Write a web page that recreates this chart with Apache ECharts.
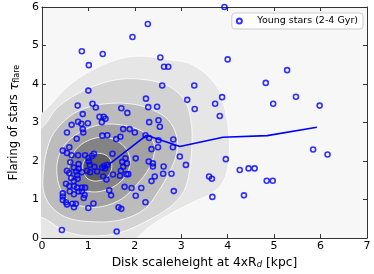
<!DOCTYPE html>
<html><head><meta charset="utf-8">
<script src="https://cdn.jsdelivr.net/npm/echarts@6/dist/echarts.min.js"></script>
<style>html,body{margin:0;padding:0;background:#fff}#c{width:374px;height:274px}</style>
</head><body><div id="c"></div>
<script>
// ---- data ----
const xTicks = [0, 1, 2, 3, 4, 5, 6, 7];
const yTicks = [0, 1, 2, 3, 4, 5, 6];
const seriesName = 'Young stars (2-4 Gyr)';

const youngStars = [
  [2.28,5.56],[1.95,5.22],[0.86,4.85],[1.31,4.78],[1.01,4.49],[2.55,4.69],[2.63,4.45],[2.72,4.45],
  [1.0,3.83],[2.59,3.96],[0.77,3.44],[1.09,3.49],[1.16,3.39],[0.88,3.22],[1.71,3.37],[1.84,3.25],
  [2.24,3.62],[2.29,3.40],[2.48,3.41],[2.31,3.01],[2.51,3.06],[2.54,2.89],[3.28,3.96],[3.13,3.59],
  [3.29,3.35],[0.64,2.94],[0.78,3.02],[0.85,2.97],[0.99,2.98],[0.88,2.83],[0.89,2.74],[1.29,3.01],
  [1.33,3.15],[1.37,3.10],[1.24,3.15],[0.54,2.74],[1.75,2.83],[1.89,2.83],[2.0,2.74],[1.3,2.66],
  [1.41,2.67],[2.23,2.67],[2.31,2.6],[3.93,6.0],[4.0,4.64],[5.28,4.36],[4.82,4.03],[3.88,3.66],
  [5.47,3.67],[3.73,3.49],[4.98,3.49],[5.98,3.44],[3.83,3.17],[0.75,2.58],[1.6,2.57],[1.69,2.63],
  [2.51,2.54],[2.83,2.56],[2.82,2.36],[2.5,2.36],[2.36,2.31],[2.97,2.12],
  [3.96,2.05],[5.84,2.30],[6.15,2.17],[3.6,1.60],[3.66,1.54],[4.26,1.77],[4.45,1.81],[4.58,1.81],
  [4.84,1.49],[4.97,1.49],[3.67,1.07],[4.35,1.11],[3.1,1.9],[2.62,1.86],[2.61,1.67],[2.79,1.67],
  [2.84,1.22],[2.43,1.6],[2.36,1.48],[2.3,1.99],[2.39,1.94],[2.39,1.86],[2.02,2.07],[2.23,0.93],
  [1.78,1.33],[1.93,1.3],[2.14,1.3],[2.02,1.1],[1.45,1.24],[1.49,1.11],[1.65,0.8],[1.71,0.76],
  [1.61,0.17],[0.43,0.21],
  [0.45,1.16],[0.45,1.08],[0.45,0.99],[0.52,0.93],[0.54,0.87],[0.66,0.89],[0.73,0.89],[0.69,0.8],
  [1.0,0.78],[1.11,0.9],[0.6,1.21],[0.69,1.14],[0.79,1.21],[0.86,1.21],[0.92,1.12],[0.9,1.04],
  [0.52,1.41],[0.59,1.35],[0.69,1.35],[0.76,1.31],[0.86,1.31],[0.93,1.31],[0.69,1.48],[0.63,1.56],
  [0.54,1.75],[0.59,1.69],[0.74,1.73],[0.76,1.63],[0.77,1.54],[0.86,1.71],[0.69,1.83],[0.79,1.8],
  [0.45,2.27],[0.54,2.21],[0.64,2.15],[0.78,2.15],[0.61,1.97],[0.79,1.92],[0.59,2.36],
  [0.93,2.15],[1.0,2.08],[1.01,1.99],[1.03,1.9],[0.97,1.75],[1.04,1.71],
  [1.12,2.19],[1.08,2.13],[1.52,2.19],[1.13,1.85],[1.19,1.73],[1.3,1.83],[1.34,1.87],[1.36,1.81],
  [1.41,1.9],[1.32,1.6],[1.39,1.52],[1.53,1.65],[1.68,1.62],[1.73,1.98],[1.8,2.07],[1.83,1.94],
  [1.75,1.85],[1.7,1.75],[1.82,1.66],[1.86,1.66]
];

const meanLine = [[1.43,1.9],[2.25,2.67],[2.97,2.38],[3.9,2.62],[4.85,2.66],[5.92,2.88]];

// density contour outlines (outermost first)
const contour1 = [[-0.6,2.6],[-0.25,2.95],[0.12,3.38],[0.62,4.0],[1.32,4.5],[2.0,4.72],[2.81,4.62],[3.24,4.5],[3.73,4.0],[3.96,3.24],[4.04,2.4],[4.0,1.82],[3.86,1.38],[3.6,1.13],[3.25,0.93],[2.75,0.62],[2.3,0.28],[1.95,-0.1],[1.2,-0.6],[-0.6,-0.6]];
const contour2 = [[-0.3,2.4],[0.1,3.0],[0.36,3.42],[0.97,3.87],[1.65,4.12],[2.3,4.1],[2.77,3.92],[3.1,3.52],[3.22,2.95],[3.23,2.4],[3.18,1.75],[3.05,1.2],[2.75,0.8],[2.3,0.47],[1.65,0.13],[0.97,0.06],[0.5,0.18],[0.1,0.48],[-0.4,0.8]];
const contour3 = [[0.03,1.25],[0.04,1.8],[0.1,2.25],[0.25,2.72],[0.62,3.18],[1.0,3.4],[1.5,3.5],[2.0,3.47],[2.4,3.32],[2.72,3.07],[2.9,2.65],[2.9,2.2],[2.75,1.72],[2.5,1.2],[2.2,0.74],[1.65,0.46],[1.0,0.43],[0.5,0.55],[0.18,0.85]];
const contour4 = [[0.32,1.75],[0.37,2.15],[0.55,2.5],[0.9,2.8],[1.3,2.95],[1.75,2.93],[2.15,2.78],[2.4,2.5],[2.42,2.2],[2.3,1.8],[2.05,1.4],[1.72,1.02],[1.3,0.82],[0.9,0.82],[0.58,0.97],[0.39,1.3]];
const contour5 = [[0.58,1.8],[0.63,2.1],[0.8,2.38],[1.05,2.56],[1.35,2.62],[1.62,2.52],[1.82,2.3],[1.9,2.0],[1.84,1.7],[1.65,1.42],[1.38,1.25],[1.08,1.2],[0.8,1.3],[0.64,1.52]];
const contour6 = [[0.88,1.8],[0.92,2.02],[1.05,2.16],[1.25,2.2],[1.42,2.12],[1.5,1.95],[1.48,1.72],[1.36,1.55],[1.15,1.48],[0.97,1.56]];
const contours = [contour1, contour2, contour3, contour4, contour5, contour6];
const contourColors = ['#e6e6e6','#d3d3d3','#bcbcbc','#a2a2a2','#838383','#5e5e5e'];

// ---- chart ----
const FONT = 'DejaVu Sans';
const chart = echarts.init(document.getElementById('c'), null, {renderer: 'canvas'});
const axisLineStyle = {color: '#333', width: 1};
function xAxisBase(pos, showLabel) {
  return {
    type: 'value', position: pos, min: xTicks[0], max: xTicks[xTicks.length - 1], interval: 1,
    axisLine: {show: true, onZero: false, lineStyle: axisLineStyle},
    axisTick: {show: true, inside: true, length: 4, lineStyle: axisLineStyle},
    axisLabel: {show: showLabel, margin: 3, fontSize: 11, color: '#000', fontFamily: FONT},
    splitLine: {show: false}
  };
}
function yAxisBase(pos, showLabel) {
  return {
    type: 'value', position: pos, min: yTicks[0], max: yTicks[yTicks.length - 1], interval: 1,
    axisLine: {show: true, onZero: false, lineStyle: axisLineStyle},
    axisTick: {show: true, inside: true, length: 4, lineStyle: axisLineStyle},
    axisLabel: {show: showLabel, margin: 3, fontSize: 11, color: '#000', fontFamily: FONT},
    splitLine: {show: false}
  };
}
const xMain = Object.assign(xAxisBase('bottom', true), {
  name: 'Disk scaleheight at 4xR{sub|d} [kpc]', nameLocation: 'middle', nameGap: 12,
  nameTextStyle: {fontSize: 12.3, color: '#000', fontFamily: FONT,
    rich: {sub: {fontSize: 8.5, fontStyle: 'italic', fontFamily: FONT, color: '#000', verticalAlign: 'bottom', lineHeight: 9}}}
});
const yMain = Object.assign(yAxisBase('left', true), {
  name: 'Flaring of stars {tau|τ}{sub|flare}', nameLocation: 'middle', nameGap: 15, nameRotate: 90,
  nameTextStyle: {fontSize: 11.5, color: '#000', fontFamily: FONT,
    rich: {tau: {fontSize: 13, fontStyle: 'italic', fontFamily: FONT, color: '#000'},
           sub: {fontSize: 8, fontFamily: FONT, color: '#000', verticalAlign: 'bottom', lineHeight: 8}}}
});

chart.setOption({
  animation: false,
  backgroundColor: '#ffffff',
  grid: {left: 25, right: 7, top: 7, bottom: 29, show: true, backgroundColor: '#f7f7f7', borderWidth: 0},
  xAxis: [xMain, xAxisBase('top', false)],
  yAxis: [yMain, yAxisBase('right', false)],
  legend: {
    data: [seriesName], right: 11, top: 13, orient: 'horizontal',
    padding: [3, 5, 3, 4], itemWidth: 18, itemHeight: 5,
    backgroundColor: 'rgba(255,255,255,0.85)', borderColor: '#cccccc', borderWidth: 1, borderRadius: 3,
    textStyle: {fontSize: 9.5, fontFamily: FONT, color: '#000', padding: [0, 0, 0, 4]}
  },
  series: [
    {
      type: 'custom', coordinateSystem: 'cartesian2d', xAxisIndex: 0, yAxisIndex: 0,
      clip: true, silent: true, z: 1,
      data: contours.map((c, i) => [i, 0]),
      encode: {x: 0, y: 1},
      renderItem: function (params, api) {
        const i = api.value(0);
        const pts = contours[i].map(p => api.coord(p));
        return {
          type: 'polygon',
          shape: {points: pts, smooth: 0.35},
          style: {fill: contourColors[i], stroke: '#ffffff', lineWidth: 0.8}
        };
      }
    },
    {
      name: seriesName, type: 'scatter', data: youngStars, z: 3,
      symbol: 'circle', symbolSize: 5,
      itemStyle: {color: 'rgba(255,255,255,0)', borderColor: '#0000ff', borderWidth: 1.6}
    },
    {
      type: 'line', data: meanLine, z: 4, showSymbol: false, symbol: 'none',
      lineStyle: {color: '#0000ff', width: 1.6}
    }
  ]
});
</script></body></html>
